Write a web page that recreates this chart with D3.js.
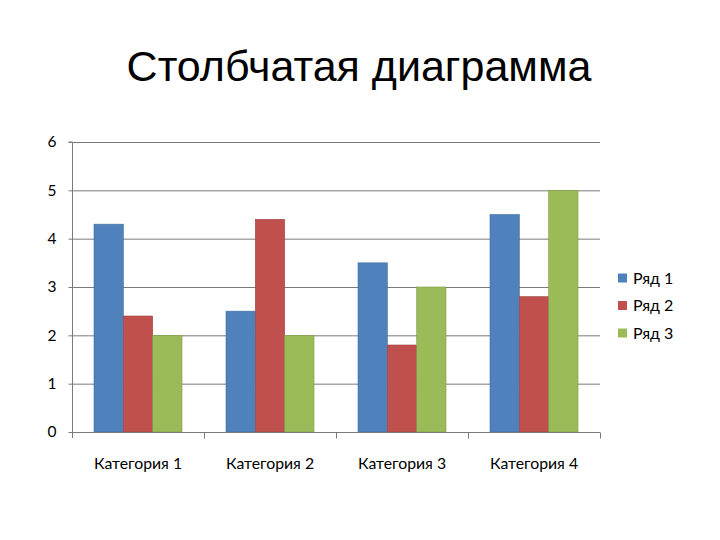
<!DOCTYPE html>
<html><head><meta charset="utf-8">
<script src="https://cdn.jsdelivr.net/npm/d3@7"></script>
<style>body{margin:0;background:#fff}</style>
</head><body>
<script>
const categories = ["Категория 1","Категория 2","Категория 3","Категория 4"];
const seriesNames = ["Ряд 1","Ряд 2","Ряд 3"];
const series1 = [4.3, 2.5, 3.5, 4.5];
const series2 = [2.4, 4.4, 1.8, 2.8];
const series3 = [2, 2, 3, 5];
const yTicks = [0,1,2,3,4,5,6];
const colors = ["#4F81BD","#C0504D","#9BBB59"];
const strokes = ["#41719C","#9E4340","#7F9A48"];
const title = "Столбчатая диаграмма";

const seriesData = [series1, series2, series3];
const W = 720, H = 540;
const svg = d3.select("body").append("svg").attr("width", W).attr("height", H);
const pL = 72, pR = 600, pT = 142, pB = 432;
const lab = "Lato, 'Open Sans', sans-serif";

svg.append("text").attr("x", 359).attr("y", 81).attr("text-anchor","middle")
  .attr("font-family","'Liberation Sans', Arial, sans-serif").attr("font-size", 43)
  .attr("fill","#000").text(title);

const x0 = d3.scaleBand().domain(categories).range([pL, pR]).paddingInner(0).paddingOuter(0);
const y = d3.scaleLinear().domain([0,6]).range([pB, pT]);
const bw = x0.bandwidth()/4.5;
const x1 = d3.scaleBand().domain(seriesNames).range([bw*0.75, x0.bandwidth()-bw*0.75]).padding(0);

// gridlines
svg.append("g").selectAll("line").data(yTicks.filter(d=>d>0)).join("line")
  .attr("x1", pL).attr("x2", pR).attr("y1", d=>y(d)+0.5).attr("y2", d=>y(d)+0.5)
  .attr("stroke","#7a7a7a").attr("stroke-width",1);

// bars
const g = svg.append("g");
categories.forEach((c, ci) => {
  seriesData.forEach((s, si) => {
    g.append("rect")
      .attr("x", x0(c) + x1(seriesNames[si]))
      .attr("y", y(s[ci]))
      .attr("width", x1.bandwidth())
      .attr("height", y(0) - y(s[ci]))
      .attr("fill", colors[si])
      .attr("stroke", strokes[si]).attr("stroke-width", 0.6);
  });
});

// y axis
const yAxis = d3.axisLeft(y).tickValues(yTicks).tickSize(4).tickPadding(12).tickFormat(d3.format("d"));
const ya = svg.append("g").attr("transform", `translate(${pL+0.5},0)`).call(yAxis);
ya.select(".domain").attr("stroke","#7a7a7a").attr("d", `M-4,${pT}H0V${pB+6}`);
ya.selectAll(".tick line").attr("stroke","#7a7a7a");
ya.selectAll(".tick text").attr("font-family", lab).attr("font-size", 15.5).attr("fill","#000");

// x axis
const xa = svg.append("g").attr("transform", `translate(0,${pB+0.5})`);
xa.append("line").attr("x1", pL).attr("x2", pR).attr("stroke","#7a7a7a");
xa.selectAll(".sep").data(categories).join("line").attr("class","sep")
  .attr("x1", d=>x0(d)+x0.bandwidth()+0.5).attr("x2", d=>x0(d)+x0.bandwidth()+0.5)
  .attr("y1",0).attr("y2",6).attr("stroke","#7a7a7a");
xa.selectAll(".lbl").data(categories).join("text").attr("class","lbl")
  .attr("x", d=>x0(d)+x0.bandwidth()/2).attr("y", 36).attr("text-anchor","middle")
  .attr("font-family", lab).attr("font-size", 15.8).attr("fill","#000").text(d=>d);

// legend
const lg = svg.append("g");
seriesNames.forEach((n, i) => {
  const cy = 278 + i*27.5;
  lg.append("rect").attr("x", 618).attr("y", cy-4.5).attr("width", 9).attr("height", 9).attr("fill", colors[i]);
  lg.append("text").attr("x", 633).attr("y", cy+5.5).attr("font-family", lab).attr("font-size", 16)
    .attr("fill","#000").text(n);
});
</script>
</body></html>
